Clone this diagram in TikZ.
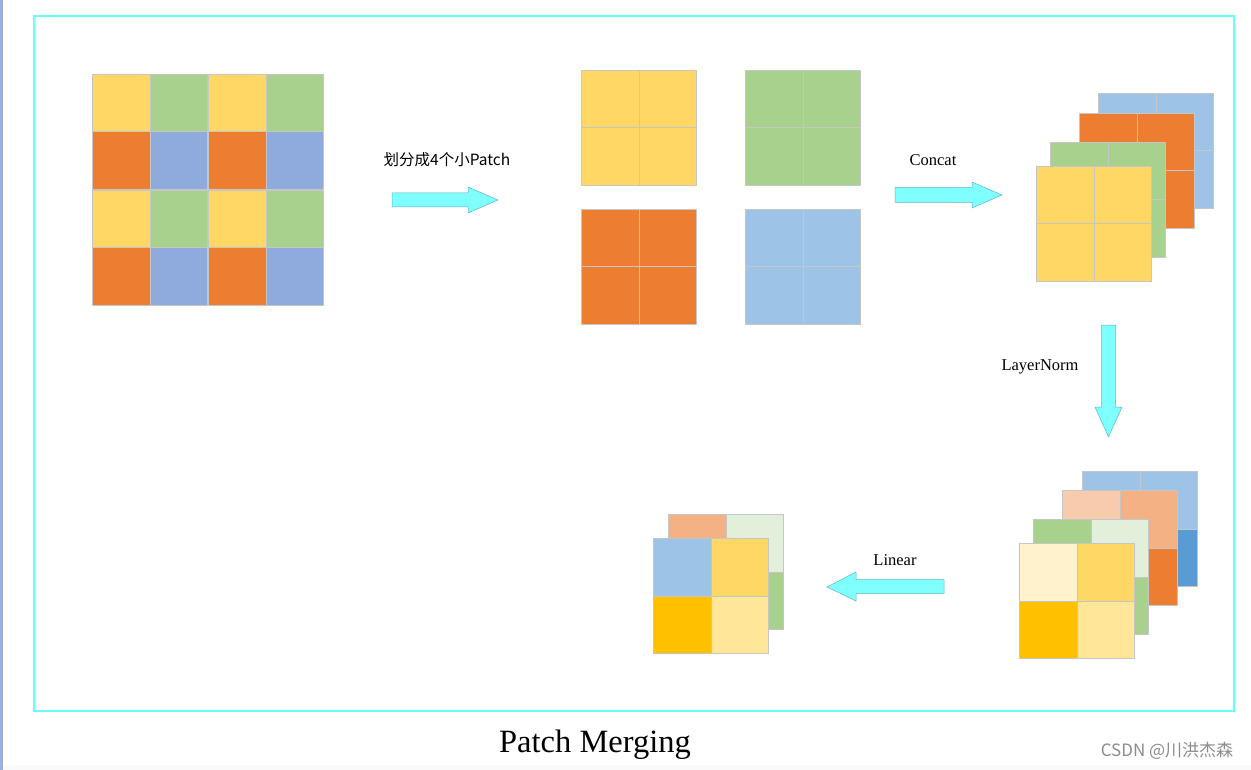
\documentclass[tikz,border=0pt]{standalone}
\usepackage{fontspec}
\setmainfont{Liberation Serif}
\newfontfamily\cjk{Noto Sans CJK SC}
\definecolor{cY}{HTML}{FED764}
\definecolor{cG}{HTML}{A9D18E}
\definecolor{cO}{HTML}{ED7D31}
\definecolor{cB}{HTML}{8FAADC}
\definecolor{cLB}{HTML}{9DC3E6}
\definecolor{cDB}{HTML}{5B9BD5}
\definecolor{cPO}{HTML}{F8CBAD}
\definecolor{cMO}{HTML}{F4B183}
\definecolor{cPG}{HTML}{E2EFDA}
\definecolor{cPY}{HTML}{FFF2CC}
\definecolor{cGold}{HTML}{FFC000}
\definecolor{cLY}{HTML}{FFE699}
\definecolor{gridc}{HTML}{C6C6C6}
\definecolor{framec}{HTML}{66FFFF}
\definecolor{arrowf}{HTML}{80FFFF}
\definecolor{arrowd}{HTML}{5FB4C8}
\definecolor{barc}{HTML}{9AB0E0}
\definecolor{wmc}{HTML}{8C8C8C}
\newcommand\pq[6]{%
  \fill[#3] (#1,#2) rectangle ++(58,58);
  \fill[#4] ({#1+58},#2) rectangle ++(58,58);
  \fill[#5] (#1,{#2+58}) rectangle ++(58,58);
  \fill[#6] ({#1+58},{#2+58}) rectangle ++(58,58);
  \draw[gridl] ({#1+0.5},{#2+0.5}) rectangle ++(115,115);
  \draw[gridl] ({#1+58},#2) -- ++(0,116);
  \draw[gridl] (#1,{#2+58}) -- ++(116,0);
}
\begin{document}
\begin{tikzpicture}[x=1pt,y=-1pt,
  gridl/.style={draw=gridc,line width=1pt},
  blockarrow/.style={fill=arrowf,draw=arrowd,line width=0.5pt},
  lbl/.style={font=\fontsize{16.5}{18}\selectfont,inner sep=0pt}]
\useasboundingbox (0,0) rectangle (1251,770);
\fill[white] (0,0) rectangle (1251,770);
\fill[barc] (0,0) rectangle (3,770);
\fill[black!2] (3,765) rectangle (1251,770);
\draw[framec,line width=1.5pt] (34,16) rectangle (1234,711);
% left 4x4 grid
\pq{92}{74}{cY}{cG}{cO}{cB}
\pq{208}{74}{cY}{cG}{cO}{cB}
\pq{92}{190}{cY}{cG}{cO}{cB}
\pq{208}{190}{cY}{cG}{cO}{cB}
% arrow 1
\node[inner sep=0pt,font=\cjk\fontsize{15.5}{17}\selectfont] (l1) at (447,160) {划分成4个小Patch};
\draw[blockarrow] (392,193) -- (468,193) -- (468,187) -- (498,200) -- (468,213) -- (468,207) -- (392,207) -- cycle;
% four patches
\pq{581}{70}{cY}{cY}{cY}{cY}
\pq{745}{70}{cG}{cG}{cG}{cG}
\pq{581}{209}{cO}{cO}{cO}{cO}
\pq{745}{209}{cLB}{cLB}{cLB}{cLB}
% concat
\node[lbl] (l2) at (933,160) {Concat};
\draw[blockarrow] (895,187.5) -- (972,187.5) -- (972,182) -- (1002,195) -- (972,208) -- (972,202.5) -- (895,202.5) -- cycle;
% stack 1
\pq{1098}{93}{cLB}{cLB}{cLB}{cLB}
\pq{1079}{113}{cO}{cO}{cO}{cO}
\pq{1050}{142}{cG}{cG}{cG}{cG}
\pq{1036}{166}{cY}{cY}{cY}{cY}
% layernorm
\node[lbl] (l3) at (1040,367) {LayerNorm};
\draw[blockarrow] (1101.5,325) -- (1115.5,325) -- (1115.5,407) -- (1122,407) -- (1108.5,437) -- (1095,407) -- (1101.5,407) -- cycle;
% stack 2
\pq{1082}{471}{cLB}{cLB}{cLB}{cDB}
\pq{1062}{490}{cPO}{cMO}{cO}{cO}
\pq{1033}{519}{cG}{cPG}{cG}{cG}
\pq{1019}{543}{cPY}{cY}{cGold}{cLY}
% linear
\node[lbl] (l4) at (895,560) {Linear};
\draw[blockarrow] (944,579.5) -- (856,579.5) -- (856,572) -- (827,587) -- (856,601) -- (856,593.5) -- (944,593.5) -- cycle;
% output
\pq{668}{514}{cMO}{cPG}{cG}{cG}
\pq{653}{538}{cLB}{cY}{cGold}{cLY}
% title
\node[inner sep=0pt,font=\fontsize{32.5}{36}\selectfont] (title) at (595,745) {Patch Merging};
\node[inner sep=0pt,text=wmc,font=\cjk\fontsize{17}{19}\selectfont] (wm) at (1167,751) {CSDN @川洪杰森};
\end{tikzpicture}
\end{document}
